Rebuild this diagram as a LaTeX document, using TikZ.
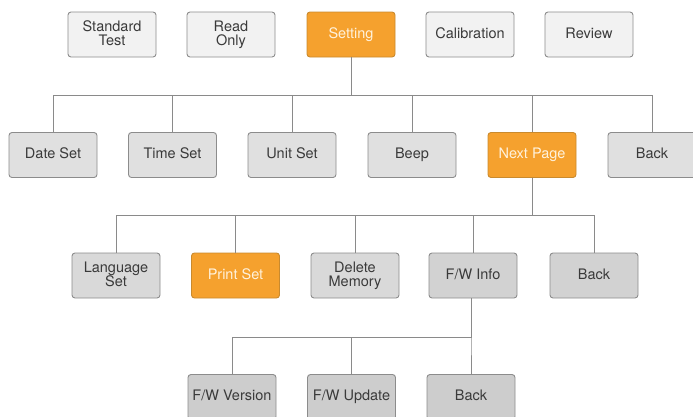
\documentclass[tikz,border=0pt]{standalone}
\usepackage{fontspec}
\setmainfont{TeX Gyre Heros}
\usepackage{xcolor}
\definecolor{menuOrange}{HTML}{F5A12E}
\definecolor{orangeEdge}{HTML}{C98A2E}
\definecolor{orangeText}{HTML}{FFF2DC}
\definecolor{boxEdge}{HTML}{8C8C8C}
\definecolor{wireCol}{HTML}{8A8A8A}
\definecolor{menuInk}{HTML}{3A3A3A}
\definecolor{rowOne}{HTML}{F2F2F2}
\definecolor{rowTwo}{HTML}{E0E0E0}
\definecolor{rowThree}{HTML}{D9D9D9}
\definecolor{rowFour}{HTML}{CDCDCD}
\usetikzlibrary{positioning}

\begin{document}
\begin{tikzpicture}[x=1pt, y=-1pt,
    menubox/.style={draw=boxEdge, line width=0.9pt, rounded corners=3pt,
        minimum width=88pt, minimum height=45pt, inner sep=1pt, align=center,
        text depth=3.5pt, text=menuInk, font=\fontsize{14.5}{14}\selectfont},
    active/.style={menubox, fill=menuOrange, draw=orangeEdge, text=orangeText},
    wire/.style={draw=wireCol, line width=0.9pt}]

    \useasboundingbox (0,0) rectangle (693,416);

    % Top menu row
    \node[menubox, fill=rowOne] (stdtest) at (112,34.5) {Standard\\Test};
    \node[menubox, fill=rowOne] (readonly) at (231,34.5) {Read\\Only};
    \node[active] (setting) at (351,34.5) {Setting};
    \node[menubox, fill=rowOne] (calib) at (470,34.5) {Calibration};
    \node[menubox, fill=rowOne] (review) at (589,34.5) {Review};

    % Setting submenu
    \node[menubox, fill=rowTwo] (dateset) at (53,155) {Date Set};
    \node[menubox, fill=rowTwo] (timeset) at (172.5,155) {Time Set};
    \node[menubox, fill=rowTwo] (unitset) at (292,155) {Unit Set};
    \node[menubox, fill=rowTwo] (beep) at (412,155) {Beep};
    \node[active] (nextpage) at (532,155) {Next Page};
    \node[menubox, fill=rowTwo] (backA) at (652,155) {Back};

    % Next page submenu
    \node[menubox, fill=rowThree] (langset) at (116,275.5) {Language\\Set};
    \node[active] (printset) at (235.5,275.5) {Print Set};
    \node[menubox, fill=rowThree] (delmem) at (355,275.5) {Delete\\Memory};
    \node[menubox, fill=rowFour!60!rowThree] (fwinfo) at (473,275.5) {F/W Info};
    \node[menubox, fill=rowFour!60!rowThree] (backB) at (594,275.5) {Back};

    % F/W info submenu
    \node[menubox, fill=rowFour] (fwversion) at (232,397) {F/W Version};
    \node[menubox, fill=rowFour] (fwupdate) at (351.5,397) {F/W Update};
    \node[menubox, fill=rowFour] (backC) at (471,397) {Back};

    % Tree wires
    \coordinate (busA) at (setting.south |- 0,95);
    \coordinate (busB) at (nextpage.south |- 0,215);
    \coordinate (busC) at (backC.north |- 0,337);

    \foreach \c in {dateset,timeset,unitset,beep,nextpage,backA}
        \draw[wire] (setting.south) -- (busA) -| (\c.north);
    \foreach \c in {langset,printset,delmem,fwinfo,backB}
        \draw[wire] (nextpage.south) -- (busB) -| (\c.north);
    \foreach \c in {fwversion,fwupdate,backC}
        \draw[wire] (fwinfo.south -| backC) -- (busC) -| (\c.north);
\end{tikzpicture}
\end{document}
